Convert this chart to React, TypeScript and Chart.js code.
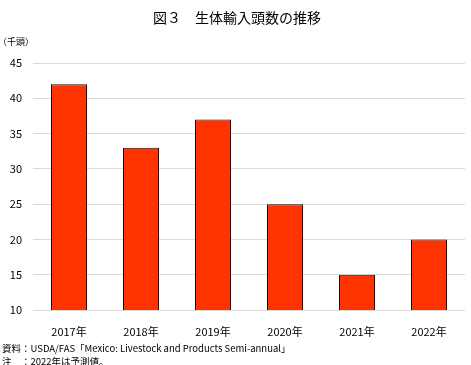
import React, { useEffect, useRef } from "react";
import { Chart, registerables } from "chart.js";

Chart.register(...registerables);

const categories = ["2017年", "2018年", "2019年", "2020年", "2021年", "2022年"];
const importHeads = [42, 33, 37, 25, 15, 20];
const yTicks = { min: 10, max: 45, step: 5 };
const titleText = "図３　生体輸入頭数の推移";
const unitText = "（千頭）";
const noteLines = [
  "資料：USDA/FAS「Mexico: Livestock and Products Semi-annual」",
  "注　：2022年は予測値。",
];

const FONT = "'Noto Sans CJK JP', 'DejaVu Sans', sans-serif";

const textPlugin = {
  id: "textPlugin",
  afterDraw(chart: any) {
    const ctx = chart.ctx;
    ctx.save();
    ctx.fillStyle = "#000";
    ctx.textBaseline = "middle";
    ctx.textAlign = "center";
    ctx.font = `14px ${FONT}`;
    ctx.fillText(titleText, 237, 18);
    ctx.textAlign = "left";
    ctx.font = `9px ${FONT}`;
    ctx.fillText(unitText, -2, 42);
    ctx.font = `9.5px ${FONT}`;
    ctx.fillText(noteLines[0], 2, 348);
    ctx.fillText(noteLines[1], 2, 361);
    ctx.restore();
  },
};

export default function App() {
  const ref = useRef<HTMLCanvasElement>(null);
  useEffect(() => {
    if (!ref.current) return;
    const chart = new Chart(ref.current, {
      type: "bar",
      data: {
        labels: categories,
        datasets: [
          {
            data: importHeads,
            backgroundColor: "#FF3300",
            borderColor: "#330000",
            borderWidth: 1,
            borderSkipped: false,
            barPercentage: 0.5,
            categoryPercentage: 1,
          },
        ],
      },
      options: {
        animation: false,
        responsive: false,
        maintainAspectRatio: false,
        layout: { padding: { left: 0, right: 6, top: 63, bottom: 0 } },
        plugins: { legend: { display: false }, tooltip: { enabled: false } },
        scales: {
          x: {
            grid: { display: false },
            border: { display: false },
            ticks: { color: "#000", font: { family: FONT, size: 11 }, padding: 7 },
            afterFit(scale: any) {
              scale.height = 55;
            },
          },
          y: {
            min: yTicks.min,
            max: yTicks.max,
            ticks: {
              stepSize: yTicks.step,
              color: "#000",
              font: { family: FONT, size: 11 },
              padding: 11,
            },
            grid: { color: "#d9d9d9", drawTicks: false },
            border: { display: false },
            afterFit(scale: any) {
              scale.width = 33;
            },
          },
        },
      },
      plugins: [textPlugin],
    });
    return () => chart.destroy();
  }, []);
  return (
    <div style={{ position: "fixed", left: 0, top: 0, width: 471, height: 365, background: "#fff" }}>
      <canvas ref={ref} width={471} height={365} style={{ display: "block" }} />
    </div>
  );
}
